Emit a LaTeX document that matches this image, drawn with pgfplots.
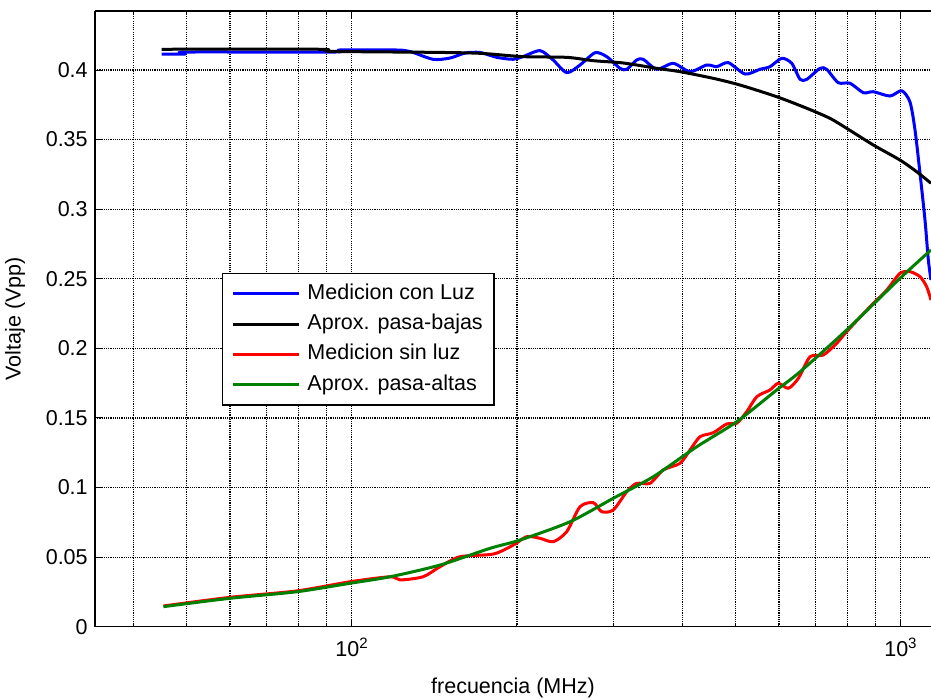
\documentclass[border=0pt]{standalone}
\usepackage{fontspec}
\setmainfont{Liberation Sans}
\usepackage{pgfplots}
\pgfplotsset{compat=1.18}
\definecolor{mgreen}{rgb}{0,0.5,0}
\pgfplotstableread{
x y
45.07 0.4115
49.7 0.4115
50.1 0.4129
92.5 0.4129
95.2 0.4144
119.9 0.4144
127.7 0.4133
140.6 0.4077
151.0 0.4086
160.9 0.4122
171.3 0.4126
183.7 0.4091
196.7 0.4077
205.1 0.4096
220.3 0.4139
232.7 0.4072
246.4 0.3981
260.5 0.4036
277.5 0.4124
291.4 0.4096
308.1 0.4012
316.9 0.4005
330.4 0.4072
339.7 0.4077
359.3 0.4005
385.3 0.4048
413.3 0.3988
443.3 0.4036
462.3 0.4024
485.3 0.4053
520.4 0.3971
554.0 0.4005
578.0 0.4024
607.1 0.4084
633.2 0.4048
655.7 0.3933
674.4 0.3933
712.8 0.4012
733.1 0.4005
769.6 0.3909
808.4 0.3905
855.0 0.3837
891.6 0.3844
956.1 0.3813
1004.2 0.3851
1039.7 0.3770
1061.8 0.3569
1084.2 0.3258
1107.2 0.2922
1122.8 0.2635
1135.5 0.2491
}\bluedata
\pgfplotstableread{
x y
45.07 0.4149
87.6 0.4149
91.3 0.4134
140.0 0.4127
171.3 0.4120
205.1 0.4096
246.4 0.4091
275.5 0.4067
308.1 0.4053
330.4 0.4036
359.3 0.4012
396.3 0.3988
455.7 0.3940
509.7 0.3892
594.5 0.3808
674.4 0.3725
743.2 0.3653
797.2 0.3581
891.6 0.3461
996.9 0.3353
1069.3 0.3269
1135.5 0.3186
}\blackdata
\pgfplotstableread{
x y
45.4 0.0149
60.0 0.0211
79.4 0.0257
99.3 0.0323
117.5 0.0359
122.5 0.0336
134.9 0.0359
144.8 0.0431
157.5 0.0503
181.1 0.0522
197.0 0.0587
208.4 0.0647
220.3 0.0635
232.9 0.0611
246.4 0.0683
260.5 0.0862
275.5 0.0891
285.4 0.0826
299.6 0.0839
316.9 0.0970
330.4 0.1030
349.4 0.1030
369.4 0.1126
396.3 0.1174
413.3 0.1270
431.0 0.1365
455.7 0.1394
482.1 0.1457
502.7 0.1462
524.2 0.1545
547.0 0.1653
578.0 0.1701
598.4 0.1749
624.2 0.1713
651.0 0.1785
683.8 0.1940
722.8 0.1952
764.5 0.2036
797.2 0.2120
879.2 0.2299
943.0 0.2419
996.9 0.2539
1039.7 0.2551
1084.2 0.2515
1115.0 0.2443
1135.5 0.2347
}\reddata
\pgfplotstableread{
x y
45.4 0.0144
60.0 0.0204
79.4 0.0251
99.3 0.0312
117.5 0.0359
144.8 0.0443
178.6 0.0563
202.6 0.0623
249.8 0.0754
299.6 0.0923
354.3 0.1078
425.1 0.1293
502.7 0.1473
594.5 0.1701
655.7 0.1832
797.2 0.2132
996.9 0.2503
1135.5 0.2707
}\greendata
\begin{document}
\fontsize{21.5}{25}\selectfont
\begin{tikzpicture}
\begin{semilogxaxis}[
  at={(0pt,0pt)}, anchor=south west,
  scale only axis, width=836pt, height=615.7pt,
  xmin=34.07, xmax=1135.5, ymin=0, ymax=0.4424,
  axis x line*=box, axis y line*=left,
  axis line style={-, line width=1.5pt, black},
  tick align=inside,
  major tick length=7pt, minor tick length=4pt,
  tick style={black, line width=1pt},
  xtick={100,1000},
  xticklabels={10\textsuperscript{2},10\textsuperscript{3}},
  minor xtick={40,50,60,70,80,90,200,300,400,500,600,700,800,900},
  ytick={0,0.05,0.1,0.15,0.2,0.25,0.3,0.35,0.4},
  yticklabels={0,0.05,0.1,0.15,0.2,0.25,0.3,0.35,0.4},
  xmajorgrids, xminorgrids, ymajorgrids,
  grid style={black, line width=1.2pt, dash pattern=on 1.1pt off 1.1pt},
  major grid style={black, line width=1.2pt, dash pattern=on 1.1pt off 1.1pt},
  minor grid style={black, line width=1.2pt, dash pattern=on 1.1pt off 1.1pt},
  xticklabel style={yshift=-4pt},
  xlabel={frecuencia (MHz)},
  ylabel={Voltaje (Vpp)},
  xlabel style={at={(axis description cs:0.5,-0.0996)}, anchor=center},
  ylabel style={at={(axis description cs:-0.0957,0.5)}, anchor=center},
  legend cell align=left,
  legend image code/.code={\draw[line width=3pt,#1] (0pt,0pt) -- (66pt,0pt);},
  legend style={at={(axis description cs:0.1516,0.5750)}, anchor=north west,
    draw=black, line width=1.5pt, fill=white, inner xsep=9pt, inner ysep=5pt,
    row sep=0pt,
    nodes={inner xsep=2pt, inner ysep=4.7pt, text height=16pt, text depth=5pt},
    /tikz/every odd column/.append style={column sep=5pt}},
  every axis plot/.append style={line width=3pt, line join=round, smooth, tension=0.45},
]
\addplot[color=blue] table[x=x,y=y] {\bluedata};
\addlegendentry{Medicion con Luz}
\addplot[color=black] table[x=x,y=y] {\blackdata};
\addlegendentry{Aprox. pasa-bajas}
\addplot[color=red] table[x=x,y=y] {\reddata};
\addlegendentry{Medicion sin luz}
\addplot[color=mgreen] table[x=x,y=y] {\greendata};
\addlegendentry{Aprox. pasa-altas}
\end{semilogxaxis}
\pgfresetboundingbox
\path[use as bounding box] (-95pt,-72.3pt) rectangle (836pt,626.7pt);
\end{tikzpicture}
\end{document}
